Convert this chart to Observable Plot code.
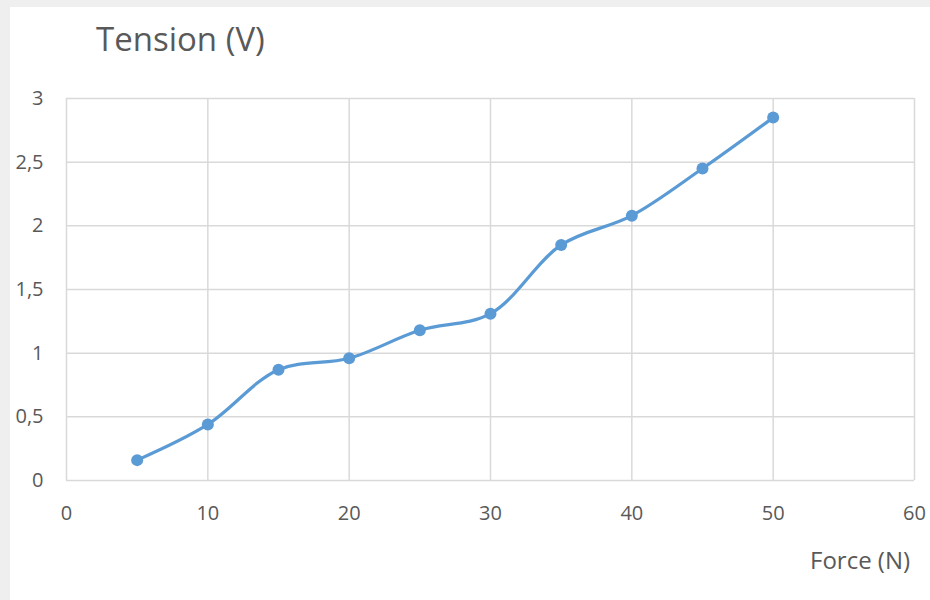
<!DOCTYPE html>
<html>
<head>
<meta charset="utf-8">
<script src="https://cdn.jsdelivr.net/npm/d3@7"></script>
<script src="https://cdn.jsdelivr.net/npm/@observablehq/plot@0.6"></script>
<style>
  html, body { margin: 0; padding: 0; }
  body { width: 930px; height: 600px; background: #efefef; overflow: hidden; }
  #frame { position: absolute; left: 10px; top: 7px; width: 920px; height: 593px; background: #fff; }
  #chart { position: absolute; left: 0; top: 0; }
  .lbl { position: absolute; font-family: "Open Sans", sans-serif; color: #595959; white-space: nowrap; line-height: normal; }
  #title { left: 96px; top: 16px; font-size: 33px; }
  #xtitle { left: 810px; top: 543px; font-size: 24px; }
</style>
</head>
<body>
<div id="frame"></div>
<div id="chart"></div>
<div class="lbl" id="title">Tension (V)</div>
<div class="lbl" id="xtitle">Force (N)</div>
<script>
// Measured force (N) and output voltage (V)
const force = [5, 10, 15, 20, 25, 30, 35, 40, 45, 50];
const tension = [0.16, 0.44, 0.87, 0.96, 1.18, 1.31, 1.85, 2.08, 2.45, 2.85];
const xTicks = [0, 10, 20, 30, 40, 50, 60];
const yTicks = [0, 0.5, 1, 1.5, 2, 2.5, 3];

const data = force.map((f, i) => ({force: f, tension: tension[i]}));
const comma = d => String(d).replace(".", ",");

const chart = Plot.plot({
  width: 930,
  height: 600,
  marginLeft: 66,
  marginRight: 16,
  marginTop: 98,
  marginBottom: 120,
  style: {background: "transparent", fontFamily: "Open Sans, sans-serif", fontSize: "20px", color: "#595959"},
  x: {domain: [0, 60], ticks: xTicks},
  y: {domain: [0, 3], ticks: yTicks},
  marks: [
    Plot.gridX(xTicks, {stroke: "#d9d9d9", strokeOpacity: 1, strokeWidth: 1.5}),
    Plot.gridY(yTicks, {stroke: "#d9d9d9", strokeOpacity: 1, strokeWidth: 1.5}),
    Plot.axisX(xTicks, {tickSize: 0, tickPadding: 25, label: null, tickFormat: comma, fill: "#595959", fontSize: 20}),
    Plot.axisY(yTicks, {tickSize: 0, tickPadding: 23, label: null, tickFormat: comma, fill: "#595959", fontSize: 20}),
    Plot.line(data, {x: "force", y: "tension", curve: "catmull-rom", stroke: "#5b9bd5", strokeWidth: 3.2}),
    Plot.dot(data, {x: "force", y: "tension", r: 6, fill: "#5b9bd5", stroke: "none"})
  ]
});
document.getElementById("chart").append(chart);
</script>
</body>
</html>
